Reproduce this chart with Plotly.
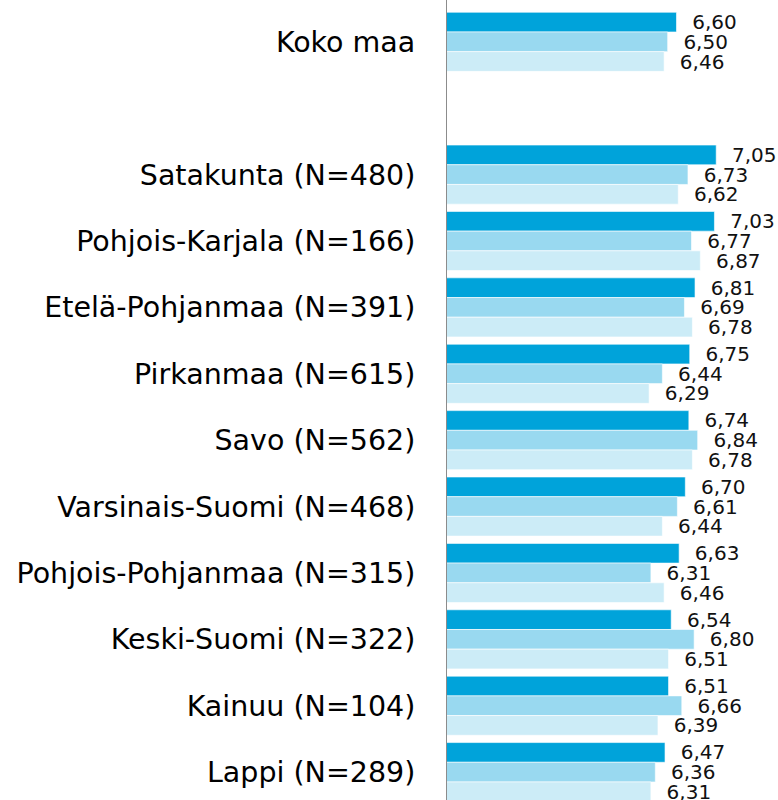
import plotly.graph_objects as go

categories = ["Koko maa", " ", "Satakunta (N=480)", "Pohjois-Karjala (N=166)",
              "Etelä-Pohjanmaa (N=391)", "Pirkanmaa (N=615)", "Savo (N=562)",
              "Varsinais-Suomi (N=468)", "Pohjois-Pohjanmaa (N=315)",
              "Keski-Suomi (N=322)", "Kainuu (N=104)", "Lappi (N=289)"]
series1 = [6.60, None, 7.05, 7.03, 6.81, 6.75, 6.74, 6.70, 6.63, 6.54, 6.51, 6.47]
series2 = [6.50, None, 6.73, 6.77, 6.69, 6.44, 6.84, 6.61, 6.31, 6.80, 6.66, 6.36]
series3 = [6.46, None, 6.62, 6.87, 6.78, 6.29, 6.78, 6.44, 6.46, 6.51, 6.39, 6.31]

colors = ["#00A3DA", "#99D9F0", "#CCECF7"]

fig = go.Figure()
for vals, col in zip([series1, series2, series3], colors):
    fig.add_trace(go.Bar(
        y=categories, x=vals, orientation="h",
        marker=dict(color=col, line=dict(color="rgba(255,255,255,0.6)", width=1)),
        texttemplate="  %{x:.2f}", textposition="outside",
        textfont=dict(family="DejaVu Sans", size=20, color="#111111"),
        constraintext="none", cliponaxis=False, showlegend=False,
    ))

fig.update_layout(
    width=778, height=800,
    barmode="group", bargap=0.11, bargroupgap=0,
    separators=", ",
    plot_bgcolor="white", paper_bgcolor="white",
    margin=dict(l=447, r=0, t=0, b=0, autoexpand=False),
    font=dict(family="DejaVu Sans", color="black"),
    xaxis=dict(range=[4, 7.75], showgrid=False, showticklabels=False,
               zeroline=False, showline=False, ticks="", automargin=False),
    yaxis=dict(type="category", categoryorder="array", categoryarray=categories,
               range=[11.42, -0.63], showgrid=False, showline=True,
               linecolor="#8c8c8c", linewidth=1, ticks="", automargin=False,
               tickfont=dict(family="DejaVu Sans", size=28.5, color="black"),
               ticklabelstandoff=25),
)

fig.write_html("out.html", config={"displayModeBar": False})
with open("out.html", "r", encoding="utf-8") as f:
    html = f.read()
html = html.replace("<head>", "<head><style>html,body{margin:0;padding:0;overflow:hidden;}</style>", 1)
with open("out.html", "w", encoding="utf-8") as f:
    f.write(html)
